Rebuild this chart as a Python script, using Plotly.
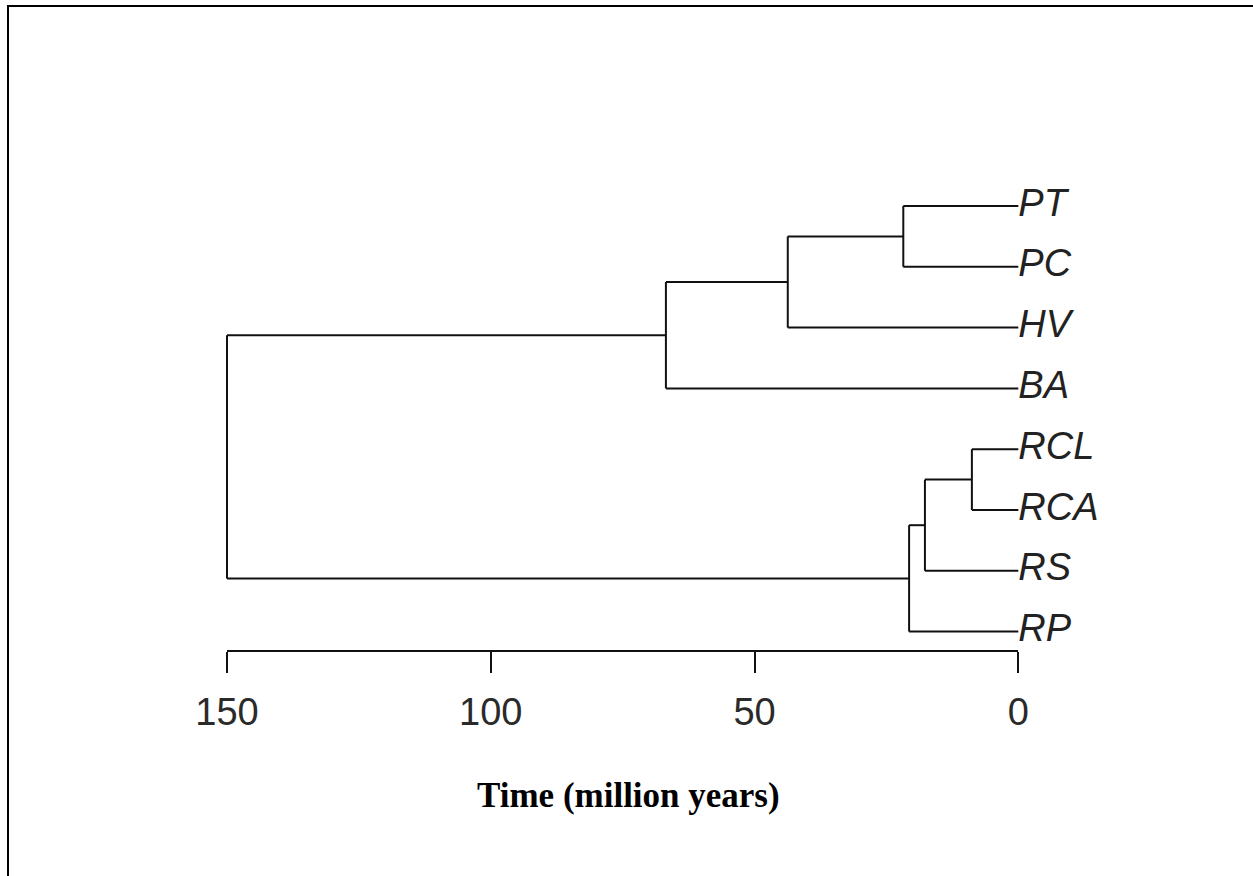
import plotly.graph_objects as go

# ---- data ----
leaves = ["PT", "PC", "HV", "BA", "RCL", "RCA", "RS", "RP"]
# merge heights (million years)
h_pt_pc = 21.8
h_hv = 43.7
h_ba = 66.8
h_rcl_rca = 8.8
h_rs = 17.7
h_rp = 20.7
h_root = 150.0
tick_vals = [150, 100, 50, 0]
axis_title = "Time (million years)"

# ---- build tree (leaf order positions 1..8) ----
pos = {name: i + 1 for i, name in enumerate(leaves)}
segs_x, segs_y = [], []


def seg(x0, y0, x1, y1):
    segs_x.extend([x0, x1, None])
    segs_y.extend([y0, y1, None])


def join(a, ha, b, hb, h):
    seg(ha, a, h, a)
    seg(hb, b, h, b)
    seg(h, a, h, b)
    return (a + b) / 2


n1 = join(pos["PT"], 0, pos["PC"], 0, h_pt_pc)
n2 = join(n1, h_pt_pc, pos["HV"], 0, h_hv)
n3 = join(n2, h_hv, pos["BA"], 0, h_ba)
m1 = join(pos["RCL"], 0, pos["RCA"], 0, h_rcl_rca)
m2 = join(m1, h_rcl_rca, pos["RS"], 0, h_rs)
m3 = join(m2, h_rs, pos["RP"], 0, h_rp)
root = join(n3, h_ba, m3, h_rp, h_root)

W, H = 1253, 876
px_per_unit = (1018.3 - 227.0) / 150.0
x_left = 150 + 227.0 / px_per_unit
x_right = 0 - (W - 1018.3) / px_per_unit

leaf_top_px = 206.0
leaf_step = 60.8
y_top = 1 - leaf_top_px / leaf_step
y_bot = 1 + (H - leaf_top_px) / leaf_step

fig = go.Figure()
fig.add_trace(go.Scatter(
    x=segs_x, y=segs_y, mode="lines",
    line=dict(color="#111111", width=2),
    hoverinfo="skip", showlegend=False,
))
fig.add_trace(go.Scatter(
    x=[0] * len(leaves), y=[pos[n] for n in leaves], mode="text",
    text=leaves, textposition="middle right",
    textfont=dict(family="Liberation Sans, Arial, sans-serif", size=38,
                  color="#222222", style="italic"),
    cliponaxis=False, hoverinfo="skip", showlegend=False,
))
# dummy trace to activate the time axis
fig.add_trace(go.Scatter(
    x=[tick_vals[0], tick_vals[-1]], y=[None, None], xaxis="x2",
    mode="lines", hoverinfo="skip", showlegend=False,
))

axis_pos = (H - 650.7) / H
fig.update_layout(
    template="none",
    width=W, height=H,
    margin=dict(l=0, r=0, t=0, b=0, pad=0),
    paper_bgcolor="white", plot_bgcolor="rgba(0,0,0,0)",
    xaxis=dict(range=[x_left, x_right], visible=False, fixedrange=True,
               automargin=False, showgrid=False, zeroline=False),
    yaxis=dict(range=[y_bot, y_top], visible=False, fixedrange=True,
               automargin=False, showgrid=False, zeroline=False),
    xaxis2=dict(
        domain=[227.0 / W, 1018.3 / W], range=[150, 0],
        anchor="free", position=axis_pos, automargin=False,
        showline=True, linecolor="#111111", linewidth=2,
        ticks="outside", ticklen=21, tickwidth=2, tickcolor="#111111",
        ticklabelstandoff=7,
        tickvals=tick_vals, ticktext=[str(v) for v in tick_vals],
        tickfont=dict(family="Liberation Sans, Arial, sans-serif", size=38, color="#2a2a2a"),
        showgrid=False, zeroline=False, fixedrange=True,
    ),
    showlegend=False,
    annotations=[dict(
        text="<b>" + axis_title + "</b>", xref="paper", yref="paper",
        x=628 / W, y=(H - 795) / H, xanchor="center", yanchor="middle",
        showarrow=False,
        font=dict(family="Liberation Serif, Times New Roman, serif", size=35, color="black"),
    )],
    shapes=[
        dict(type="line", xref="paper", yref="paper", x0=8 / W, x1=1.0,
             y0=(H - 6) / H, y1=(H - 6) / H, line=dict(color="black", width=2)),
        dict(type="line", xref="paper", yref="paper", x0=8 / W, x1=8 / W,
             y0=0, y1=(H - 5) / H, line=dict(color="black", width=2)),
    ],
)
fig.write_html("out.html")
